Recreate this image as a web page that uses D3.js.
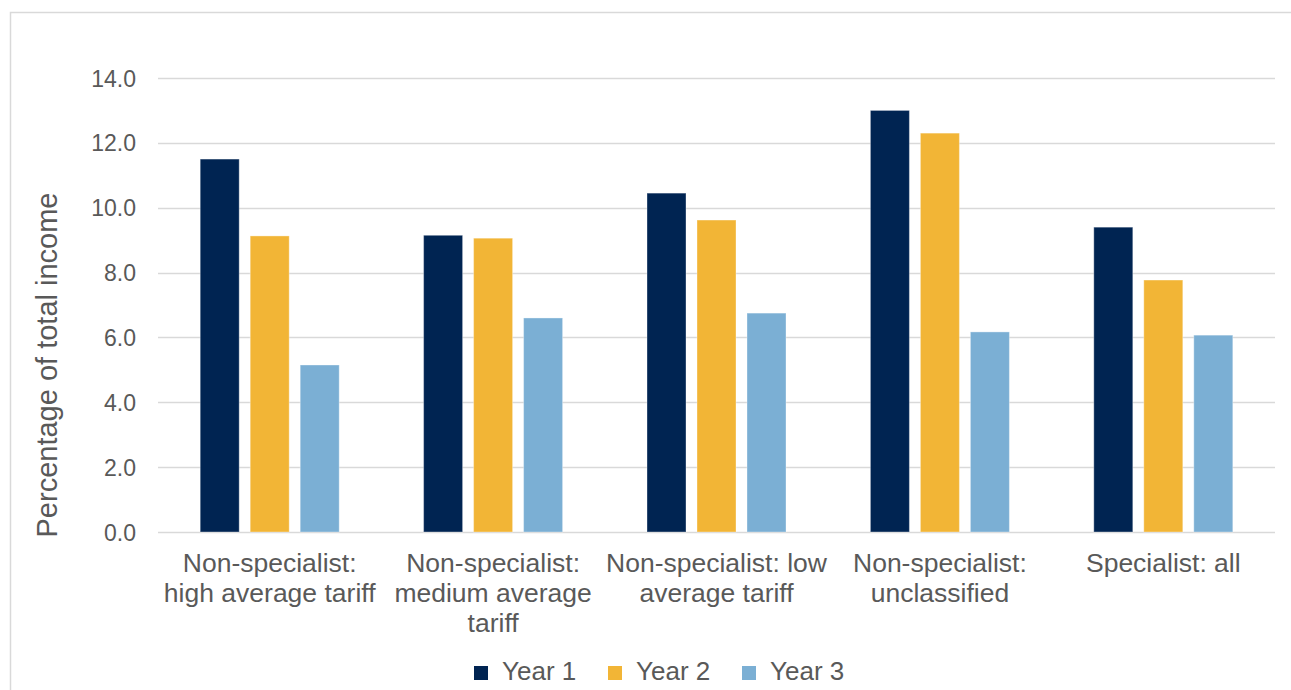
<!DOCTYPE html>
<html>
<head>
<meta charset="utf-8">
<script src="https://cdn.jsdelivr.net/npm/d3@7"></script>
<style>
  html, body { margin: 0; padding: 0; background: #fff; }
  svg { display: block; }
  text { font-family: "Liberation Sans", Arial, sans-serif; fill: #595959; }
</style>
</head>
<body>
<svg id="chart" width="1291" height="690"></svg>
<script>
// ---- Data ----
const categories = [
  "Non-specialist:\nhigh average tariff",
  "Non-specialist:\nmedium average\ntariff",
  "Non-specialist: low\naverage tariff",
  "Non-specialist:\nunclassified",
  "Specialist: all"
];
const seriesNames = ["Year 1", "Year 2", "Year 3"];
const year1 = [11.5, 9.15, 10.45, 13.0, 9.4];
const year2 = [9.13, 9.06, 9.62, 12.3, 7.77];
const year3 = [5.15, 6.6, 6.75, 6.17, 6.07];
const yTicks = [0, 2, 4, 6, 8, 10, 12, 14];
const colors = ["#002452", "#F2B536", "#7BAFD4"];
const seriesValues = [year1, year2, year3];

// ---- Layout ----
const svg = d3.select("#chart");
const W = 1291, H = 690;
const plotLeft = 158, plotRight = 1275, plotTop = 78, plotBottom = 532;

// Outer border
svg.append("rect")
  .attr("x", 10.5).attr("y", 12.5)
  .attr("width", W + 20).attr("height", H + 20)
  .attr("fill", "none").attr("stroke", "#d9d9d9").attr("stroke-width", 1.5);

const y = d3.scaleLinear().domain([0, 14]).range([plotBottom, plotTop]);
const x0 = d3.scaleBand().domain(categories).range([plotLeft, plotRight]).padding(0);
const innerW = 139;
const x1 = d3.scaleBand().domain(seriesNames).range([0, innerW]).paddingInner(0.22).paddingOuter(0);

// Gridlines
svg.append("g").selectAll("line").data(yTicks).join("line")
  .attr("x1", plotLeft).attr("x2", plotRight)
  .attr("y1", d => Math.round(y(d)) + 0.5).attr("y2", d => Math.round(y(d)) + 0.5)
  .attr("stroke", "#d9d9d9").attr("stroke-width", 1.5);

// Y axis labels
const yAxis = d3.axisLeft(y).tickValues(yTicks).tickFormat(d3.format(".1f")).tickSize(0).tickPadding(0);
const gy = svg.append("g").attr("transform", `translate(136,0)`).call(yAxis);
gy.select(".domain").remove();
gy.selectAll("text").style("font-size", "23px").style("font-family", '"Liberation Sans", Arial, sans-serif').attr("fill", "#595959").attr("dy", "0.35em");

// Bars
const groups = svg.append("g").selectAll("g").data(categories).join("g")
  .attr("transform", c => `translate(${x0(c) + (x0.bandwidth() - innerW) / 2},0)`);
groups.selectAll("rect")
  .data((c, i) => seriesNames.map((s, j) => ({ s, j, v: seriesValues[j][i] })))
  .join("rect")
  .attr("x", d => x1(d.s))
  .attr("width", x1.bandwidth())
  .attr("y", d => y(d.v))
  .attr("height", d => y(0) - y(d.v))
  .attr("fill", d => colors[d.j])
  .attr("stroke", "#ffffff").attr("stroke-opacity", 0.35).attr("stroke-width", 1);

// Category labels
const xAxis = d3.axisBottom(x0).tickSize(0).tickFormat("");
const gx = svg.append("g").attr("transform", `translate(0,${plotBottom})`).call(xAxis);
gx.select(".domain").remove();
gx.selectAll(".tick").each(function(c) {
  const t = d3.select(this).append("text")
    .attr("text-anchor", "middle")
    .style("font-size", "26.5px")
    .attr("fill", "#595959");
  c.split("\n").forEach((line, k) => {
    t.append("tspan").attr("x", 0).attr("y", 40 + k * 30).text(line);
  });
});

// Y axis title
svg.append("text")
  .attr("transform", `translate(57,365) rotate(-90)`)
  .attr("text-anchor", "middle")
  .style("font-size", "29px")
  .text("Percentage of total income");

// Legend
const legend = svg.append("g").attr("transform", "translate(474,666)");
const li = legend.selectAll("g").data(seriesNames).join("g")
  .attr("transform", (d, i) => `translate(${i * 134},0)`);
li.append("rect").attr("width", 14).attr("height", 14).attr("fill", (d, i) => colors[i]);
li.append("text").attr("x", 28).attr("y", 14).style("font-size", "26px").text(d => d);
</script>
</body>
</html>
